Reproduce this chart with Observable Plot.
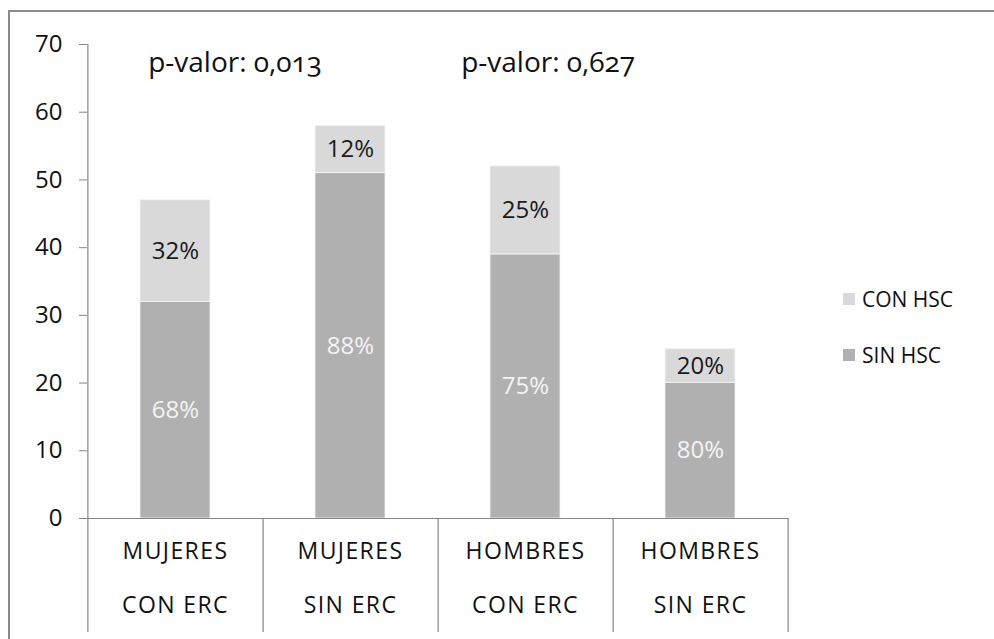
<!DOCTYPE html>
<html>
<head>
<meta charset="utf-8">
<script src="https://cdn.jsdelivr.net/npm/d3@7"></script>
<script src="https://cdn.jsdelivr.net/npm/@observablehq/plot@0.6"></script>
<style>
  html, body { margin: 0; padding: 0; background: #fff; }
  #wrap { position: relative; width: 994px; height: 639px; overflow: hidden; font-family: "Open Sans", sans-serif; }
  #border { position: absolute; left: 8px; top: 10px; width: 2000px; height: 2000px; border-left: 2px solid #8a8a8a; border-top: 2px solid #8a8a8a; }
  #chart { position: absolute; left: 0; top: 0; }
  #legend { position: absolute; left: 843px; top: 285px; font-size: 21px; color: #111; }
  #legend .item { display: flex; align-items: center; height: 28px; margin-bottom: 28px; }
  #legend .sw { width: 12px; height: 12px; margin-right: 7px; }
</style>
</head>
<body>
<div id="wrap">
  <div id="border"></div>
  <div id="chart"></div>
  <div id="legend"></div>
</div>
<script>
// ---- data ----
const catLine1 = ["MUJERES", "MUJERES", "HOMBRES", "HOMBRES"];
const catLine2 = ["CON ERC", "SIN ERC", "CON ERC", "SIN ERC"];
const categories = catLine1.map((d, i) => d + " " + catLine2[i]);
const series = ["SIN HSC", "CON HSC"];
const sinHSC = [32, 51, 39, 20];
const conHSC = [15, 7, 13, 5];
const pctSin = ["68%", "88%", "75%", "80%"];
const pctCon = ["32%", "12%", "25%", "20%"];
const pLabels = ["p-valor: 0,013", "p-valor: 0,627"];
const pAfterCategory = [categories[0], categories[2]];
const pY = [67.2, 67.2];
const colors = ["#b0b0b0", "#d9d9d9"];
const yTicks = [0, 10, 20, 30, 40, 50, 60, 70];

// ---- table ----
const data = [];
categories.forEach((c, i) => {
  data.push({cat: c, serie: series[0], value: sinHSC[i], label: pctSin[i]});
  data.push({cat: c, serie: series[1], value: conHSC[i], label: pctCon[i]});
});
const cats = categories.map((c, i) => ({cat: c, l1: catLine1[i], l2: catLine2[i]}));
const notes = pLabels.map((t, i) => ({text: t, cat: pAfterCategory[i], y: pY[i], shift: i === 0 ? -28 : -65}));

const W = 994, H = 639;
const mL = 87, mR = 206, mT = 44, mB = 121;
const step = (W - mL - mR) / categories.length;
const plotH = H - mT - mB;
const axisColor = "#868686";

const chart = Plot.plot({
  width: W, height: H,
  marginLeft: mL, marginRight: mR, marginTop: mT, marginBottom: mB,
  style: {fontFamily: "Open Sans, sans-serif", fontSize: "24px", color: "#111", background: "transparent"},
  x: {domain: categories, paddingInner: 0.6, paddingOuter: 0.3, axis: null},
  y: {domain: [0, 70], axis: null},
  color: {domain: series, range: colors},
  marks: [
    Plot.barY(data, Plot.stackY({x: "cat", y: "value", fill: "serie", z: "serie", order: series, stroke: "#f4f4f4", strokeWidth: 0.8})),
    Plot.text(data, Plot.stackY({x: "cat", y: "value", z: "serie", order: series, text: d => d.serie === series[0] ? d.label : "", fill: "#f4f4f4", fontSize: 24})),
    Plot.text(data, Plot.stackY({x: "cat", y: "value", z: "serie", order: series, text: d => d.serie === series[1] ? d.label : "", fill: "#1a1a1a", fontSize: 24})),
    Plot.ruleY([0], {stroke: axisColor, strokeWidth: 1.2}),
    Plot.ruleX([categories[0]], {dx: -step / 2, stroke: axisColor, strokeWidth: 1.2, insetBottom: -114}),
    Plot.ruleX(categories, {dx: step / 2, stroke: axisColor, strokeWidth: 1.2, insetTop: plotH, insetBottom: -114}),
    Plot.axisY({ticks: yTicks, tickSize: 8, tickPadding: 17, stroke: axisColor, fontSize: 24, anchor: "left"}),
    Plot.text(cats, {x: "cat", text: "l1", frameAnchor: "bottom", dy: 40, fontSize: 23}),
    Plot.text(cats, {x: "cat", text: "l2", frameAnchor: "bottom", dy: 94, fontSize: 23}),
    Plot.text(notes.slice(0, 1), {x: "cat", y: "y", text: "text", dx: step / 2 + notes[0].shift, fontSize: 28, fill: "#111"}),
    Plot.text(notes.slice(1, 2), {x: "cat", y: "y", text: "text", dx: step / 2 + notes[1].shift, fontSize: 28, fill: "#111"})
  ]
});
document.getElementById("chart").appendChild(chart);
chart.querySelectorAll("text").forEach(t => {
  const s = t.textContent;
  if (/p-valor/.test(s)) t.style.fontVariantNumeric = "oldstyle-nums";
  if (catLine1.includes(s) || catLine2.includes(s)) t.style.letterSpacing = "1.4px";
});

const legend = document.getElementById("legend");
[series[1], series[0]].forEach(s => {
  const item = document.createElement("div");
  item.className = "item";
  const sw = document.createElement("span");
  sw.className = "sw";
  sw.style.background = colors[series.indexOf(s)];
  const lab = document.createElement("span");
  lab.textContent = s;
  item.appendChild(sw); item.appendChild(lab);
  legend.appendChild(item);
});
</script>
</body>
</html>
